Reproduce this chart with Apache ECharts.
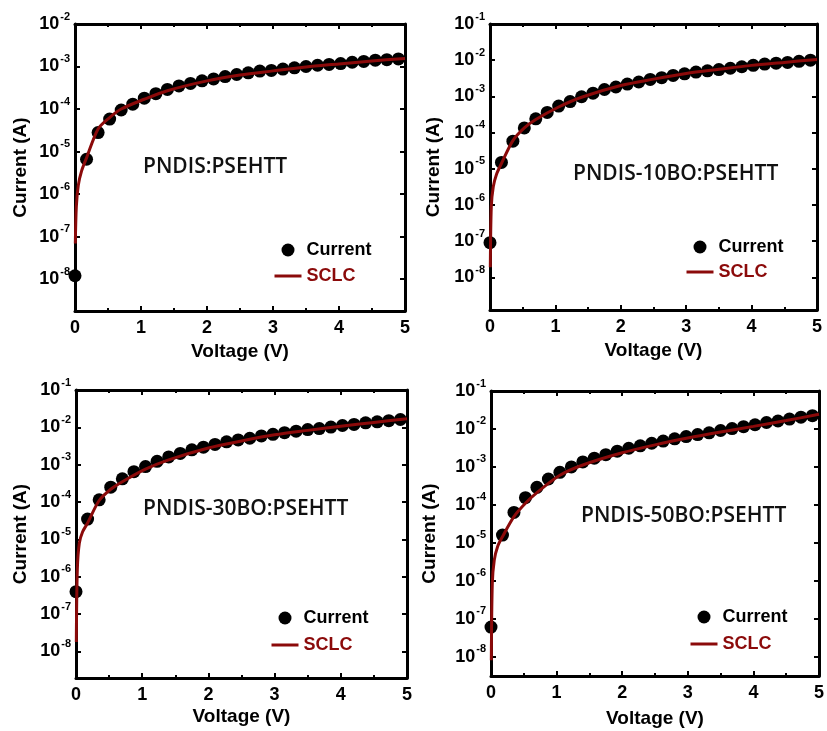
<!DOCTYPE html>
<html>
<head>
<meta charset="utf-8">
<title>SCLC</title>
<script src="https://cdn.jsdelivr.net/npm/echarts@6/dist/echarts.min.js"></script>
<style>
    html, body { margin: 0; padding: 0; background: #fff; }
    #main { width: 827px; height: 731px; }
</style>
</head>
<body>
<div id="main"></div>
<script>
// measured points (V, A)
var voltage = [0, 0.175, 0.35, 0.525, 0.7, 0.875, 1.05, 1.225, 1.4, 1.575, 1.75, 1.925, 2.1, 2.275, 2.45,
    2.625, 2.8, 2.975, 3.15, 3.325, 3.5, 3.675, 3.85, 4.025, 4.2, 4.375, 4.55, 4.725, 4.9];
var currentA = [1.2e-8, 6.6e-6, 2.8e-5, 5.8e-5, 9.5e-5, 1.3e-4, 1.8e-4, 2.3e-4, 2.9e-4, 3.5e-4, 4.0e-4, 4.6e-4, 5.1e-4, 5.8e-4, 6.5e-4,
    7.1e-4, 7.8e-4, 8.1e-4, 8.7e-4, 9.3e-4, 1.0e-3, 1.07e-3, 1.12e-3, 1.17e-3, 1.26e-3, 1.32e-3, 1.41e-3, 1.45e-3, 1.51e-3];
var currentB = [9.1e-8, 1.5e-5, 5.8e-5, 1.35e-4, 2.4e-4, 3.6e-4, 5.4e-4, 7.2e-4, 9.8e-4, 1.23e-3, 1.55e-3, 1.82e-3, 2.19e-3, 2.5e-3, 2.95e-3,
    3.3e-3, 3.8e-3, 4.2e-3, 4.7e-3, 5.1e-3, 5.5e-3, 6.0e-3, 6.6e-3, 7.2e-3, 7.8e-3, 8.3e-3, 8.7e-3, 9.3e-3, 1.0e-2];
var currentC = [4.0e-7, 3.5e-5, 1.15e-4, 2.5e-4, 4.2e-4, 6.5e-4, 8.9e-4, 1.23e-3, 1.62e-3, 2.0e-3, 2.5e-3, 2.95e-3, 3.5e-3, 4.1e-3, 4.6e-3,
    5.1e-3, 5.9e-3, 6.5e-3, 7.2e-3, 7.9e-3, 8.7e-3, 9.3e-3, 1.02e-2, 1.12e-2, 1.2e-2, 1.32e-2, 1.41e-2, 1.51e-2, 1.62e-2];
var currentD = [6.0e-8, 1.6e-5, 6.3e-5, 1.55e-4, 2.9e-4, 4.8e-4, 7.2e-4, 1.0e-3, 1.35e-3, 1.7e-3, 2.1e-3, 2.6e-3, 3.1e-3, 3.6e-3, 4.2e-3,
    4.8e-3, 5.5e-3, 6.3e-3, 7.1e-3, 7.9e-3, 9.1e-3, 1.02e-2, 1.15e-2, 1.29e-2, 1.48e-2, 1.62e-2, 1.82e-2, 2.04e-2, 2.24e-2];

// SCLC fit curves
var fitVoltage = [0.005, 0.02, 0.05, 0.1, 0.175, 0.35, 0.525, 0.7, 1.05, 1.4, 2, 2.5, 3, 3.5, 4, 4.5, 5];
var fitA = [6.9e-8, 5.0e-7, 1.6e-6, 3.5e-6, 7.1e-6, 3.4e-5, 6.3e-5, 1.0e-4, 1.7e-4, 2.7e-4, 4.6e-4, 6.3e-4, 7.9e-4, 9.8e-4, 1.15e-3, 1.35e-3, 1.55e-3];
var fitB = [1.9e-8, 9.1e-7, 3.2e-6, 7.1e-6, 1.4e-5, 6.0e-5, 1.35e-4, 2.3e-4, 5.1e-4, 9.5e-4, 2.0e-3, 3.0e-3, 4.3e-3, 5.6e-3, 7.2e-3, 8.7e-3, 1.05e-2];
var fitC = [1.8e-8, 1.55e-6, 7.9e-6, 1.6e-5, 2.75e-5, 1.1e-4, 2.2e-4, 3.5e-4, 7.6e-4, 1.35e-3, 2.8e-3, 4.3e-3, 6.3e-3, 8.3e-3, 1.07e-2, 1.35e-2, 1.7e-2];
var fitD = [8.0e-9, 8.5e-7, 3.5e-6, 7.9e-6, 1.45e-5, 4.9e-5, 1.1e-4, 2.1e-4, 6.0e-4, 1.12e-3, 2.35e-3, 3.8e-3, 5.75e-3, 8.3e-3, 1.17e-2, 1.66e-2, 2.45e-2];

var sampleNames = ['PNDIS:PSEHTT', 'PNDIS-10BO:PSEHTT', 'PNDIS-30BO:PSEHTT', 'PNDIS-50BO:PSEHTT'];
var yMinExp = [-8.75, -8.9, -8.71, -8.51];
var yMaxExp = [-2, -1, -1, -1];

var FONT = '"Liberation Sans", Arial, sans-serif';
var RED = '#8b0a0a';

var panels = [
    { grid: { left: 75, top: 24, width: 330, height: 287 }, note: [143, 157], legend: [273, 241, 8], xGap: 31, yGap: 45 },
    { grid: { left: 490, top: 24, width: 327, height: 286 }, note: [573, 164], legend: [685, 238, 7], xGap: 31, yGap: 47 },
    { grid: { left: 76, top: 390, width: 331, height: 288 }, note: [143, 499], legend: [270, 609, 9], xGap: 29, yGap: 46 },
    { grid: { left: 491, top: 391, width: 331, height: 285 }, note: [581, 506], legend: [689, 608, 9], xGap: 33, yGap: 52 }
];
var currents = [currentA, currentB, currentC, currentD];
var fits = [fitA, fitB, fitC, fitD];

function pairs(xs, ys) {
    return xs.map(function (x, i) { return [x, ys[i]]; });
}

// 10^n labels, the odd min of the range gets none
function expLabel(value) {
    var e = Math.log10(value);
    if (Math.abs(e - Math.round(e)) > 0.01) return '';
    return '{b|10}{s|' + Math.round(e) + '}';
}

var option = {
    backgroundColor: '#fff',
    animation: false,
    grid: [],
    xAxis: [],
    yAxis: [],
    title: [],
    legend: [],
    series: []
};

panels.forEach(function (p, i) {
    option.grid.push(p.grid);
    var frame = { onZero: false, lineStyle: { color: '#000', width: 3 } };
    var xBase = {
        type: 'value', gridIndex: i, min: 0, max: 5, interval: 1,
        axisLine: frame,
        axisTick: { inside: true, length: 5, lineStyle: { color: '#000', width: 2 } },
        minorTick: { show: true, splitNumber: 2, length: 3, lineStyle: { color: '#000', width: 2 } },
        splitLine: { show: false }
    };
    option.xAxis.push(Object.assign({}, xBase, {
        position: 'bottom',
        name: 'Voltage (V)', nameLocation: 'middle', nameGap: p.xGap,
        nameTextStyle: { fontFamily: FONT, fontWeight: 'bold', fontSize: 19, color: '#000' },
        axisLabel: { margin: 8, fontFamily: FONT, fontWeight: 'bold', fontSize: 18, color: '#000' }
    }));
    option.xAxis.push(Object.assign({}, xBase, { position: 'top', axisLabel: { show: false } }));

    var yBase = {
        type: 'log', logBase: 10, gridIndex: i,
        min: Math.pow(10, yMinExp[i]), max: Math.pow(10, yMaxExp[i]),
        splitNumber: 8,
        axisLine: frame,
        axisTick: { inside: true, length: 5, lineStyle: { color: '#000', width: 2 } },
        splitLine: { show: false }
    };
    option.yAxis.push(Object.assign({}, yBase, {
        position: 'left',
        name: 'Current (A)', nameLocation: 'middle', nameGap: p.yGap,
        nameTextStyle: { fontFamily: FONT, fontWeight: 'bold', fontSize: 19, color: '#000' },
        axisLabel: {
            margin: 5,
            formatter: expLabel,
            rich: {
                b: { fontFamily: FONT, fontWeight: 'bold', fontSize: 18, color: '#000', lineHeight: 26 },
                s: { fontFamily: FONT, fontWeight: 'bold', fontSize: 11, color: '#000', lineHeight: 12, verticalAlign: 'top', padding: [0, 0, 0, 1] }
            }
        }
    }));
    option.yAxis.push(Object.assign({}, yBase, { position: 'right', axisLabel: { show: false } }));

    option.title.push({
        text: sampleNames[i], left: p.note[0], top: p.note[1], padding: 0,
        textStyle: { fontFamily: '"Open Sans", "Noto Sans", sans-serif', fontWeight: 600, fontSize: 21, color: '#111' }
    });

    option.legend.push({
        left: p.legend[0], top: p.legend[1], orient: 'vertical', padding: 0,
        itemGap: p.legend[2], itemWidth: 27, itemHeight: 13, selectedMode: false,
        textStyle: { fontFamily: FONT, fontWeight: 'bold', fontSize: 18 },
        data: [
            { name: 'Current', icon: 'circle', itemStyle: { color: '#000', opacity: 1 }, textStyle: { color: '#000' } },
            { name: 'SCLC', itemStyle: { opacity: 0 }, lineStyle: { color: RED, width: 3 }, textStyle: { color: RED } }
        ]
    });

    option.series.push({
        name: 'Current', type: 'scatter', xAxisIndex: 2 * i, yAxisIndex: 2 * i,
        symbolSize: 13, itemStyle: { color: '#000', opacity: 1 },
        data: pairs(voltage, currents[i])
    });
    option.series.push({
        name: 'SCLC', type: 'line', xAxisIndex: 2 * i, yAxisIndex: 2 * i,
        symbol: 'none', smooth: 0.3,
        lineStyle: { color: RED, width: 3 }, itemStyle: { color: RED },
        data: pairs(fitVoltage, fits[i])
    });
});

var chart = echarts.init(document.getElementById('main'));
chart.setOption(option);
</script>
</body>
</html>
